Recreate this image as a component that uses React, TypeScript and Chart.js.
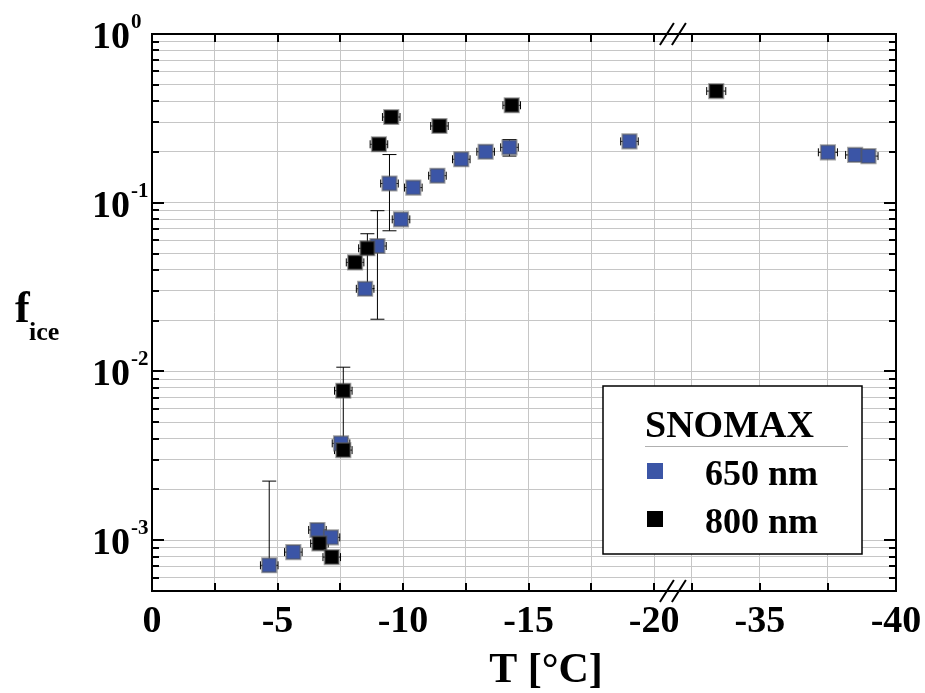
import React, { useEffect, useRef } from 'react';
import { Chart, registerables } from 'chart.js';

Chart.register(...registerables);

// ---- data (temperature in °C, frozen fraction f_ice) ----
const T650 = [-4.67, -5.63, -6.59, -7.13, -7.53, -8.49, -8.98, -9.46, -9.92, -10.41, -11.37, -12.32, -13.29, -14.24, -19.02, -37.5, -38.5, -38.99];
const F650 = [7.1e-4, 8.5e-4, 1.15e-3, 1.04e-3, 3.75e-3, 0.0309, 0.0554, 0.13, 0.0797, 0.123, 0.1446, 0.181, 0.2006, 0.213, 0.231, 0.199, 0.192, 0.189];
const ERR650: ([number, number] | null)[] = [
  [7.1e-4, 2.24e-3], null, null, null, null, null, [0.0204, 0.0897], [0.0682, 0.193], null, null,
  [0.135, 0.155], null, null, [0.189, 0.237], null, null, null, null,
];

const T800 = [-6.67, -7.16, -7.62, -7.62, -8.09, -8.58, -9.04, -9.53, -11.45, -14.33, -33.4];
const F800 = [9.57e-4, 7.94e-4, 3.42e-3, 7.69e-3, 0.0443, 0.0537, 0.222, 0.322, 0.285, 0.378, 0.459];
const ERR800: ([number, number] | null)[] = [
  null, null, null, [3.6e-3, 0.0106], null, [0.031, 0.0655], null, null, null, null, null,
];

const X_ERR = 0.35;

const X_TICKS = [0, -2.5, -5, -7.5, -10, -12.5, -15, -17.5, -20, -32.5, -35, -37.5, -40];
const X_LABELED = [0, -5, -10, -15, -20, -35, -40];
const Y_MIN = 5e-4;
const Y_MAX = 1;
const Y_DECADES = [-3, -2, -1, 0];

const SERIES_NAMES = ['650 nm', '800 nm'];
const LEGEND_TITLE = 'SNOMAX';
const BLUE = '#3b55a6';
const BLACK = '#000000';

// axis break: 0..-20 then -32.5..-40
const BREAK_START = 20;
const BREAK_END = 32.5;
const BREAK_GAP = 1.5;
const SEG2_SCALE = 1.085;
function toAxis(t: number): number {
  const a = -t;
  return a <= BREAK_START ? a : BREAK_START + BREAK_GAP + (a - BREAK_END) * SEG2_SCALE;
}

function yTickValues(): number[] {
  const out: number[] = [];
  for (let e = -4; e <= 0; e++) {
    for (let k = 1; k <= 9; k++) {
      const v = k * Math.pow(10, e);
      if (v >= Y_MIN * 0.999 && v <= Y_MAX * 1.001) out.push(v);
    }
  }
  return out;
}

const FONT = '"Liberation Serif", "Times New Roman", Times, serif';

const errorBarPlugin = {
  id: 'errorBars',
  beforeDatasetsDraw(chart: any) {
    const ctx = chart.ctx;
    const xs = chart.scales.x;
    const ys = chart.scales.y;
    const sets = [
      { t: T650, f: F650, e: ERR650 },
      { t: T800, f: F800, e: ERR800 },
    ];
    ctx.save();
    ctx.strokeStyle = '#000';
    ctx.lineWidth = 1;
    for (const s of sets) {
      s.t.forEach((t, i) => {
        const px = xs.getPixelForValue(toAxis(t));
        const py = ys.getPixelForValue(s.f[i]);
        // horizontal
        const x1 = xs.getPixelForValue(toAxis(t + X_ERR));
        const x2 = xs.getPixelForValue(toAxis(t - X_ERR));
        ctx.beginPath();
        ctx.moveTo(x1, py); ctx.lineTo(x2, py);
        ctx.moveTo(x1, py - 4); ctx.lineTo(x1, py + 4);
        ctx.moveTo(x2, py - 4); ctx.lineTo(x2, py + 4);
        ctx.stroke();
        const e = s.e[i];
        if (e) {
          const ylo = ys.getPixelForValue(e[0]);
          const yhi = ys.getPixelForValue(e[1]);
          ctx.beginPath();
          ctx.moveTo(px, ylo); ctx.lineTo(px, yhi);
          ctx.moveTo(px - 7, yhi); ctx.lineTo(px + 7, yhi);
          ctx.moveTo(px - 7, ylo); ctx.lineTo(px + 7, ylo);
          ctx.stroke();
        }
      });
    }
    ctx.restore();
  },
};

const decorPlugin = {
  id: 'decor',
  afterDraw(chart: any) {
    const ctx = chart.ctx;
    const { left, right, top, bottom } = chart.chartArea;
    const xs = chart.scales.x;
    const ys = chart.scales.y;
    ctx.save();

    // frame
    ctx.strokeStyle = '#000';
    ctx.lineWidth = 2;
    ctx.strokeRect(left, top, right - left, bottom - top);

    // x ticks (inward)
    ctx.lineWidth = 2;
    ctx.beginPath();
    for (const t of X_TICKS) {
      const px = Math.round(xs.getPixelForValue(toAxis(t)));
      ctx.moveTo(px, bottom); ctx.lineTo(px, bottom - 8);
      ctx.moveTo(px, top); ctx.lineTo(px, top + 8);
    }
    ctx.stroke();

    // y ticks (inward)
    ctx.beginPath();
    for (const v of yTickValues()) {
      const py = Math.round(ys.getPixelForValue(v));
      const major = Math.abs(Math.log10(v) - Math.round(Math.log10(v))) < 1e-6;
      const len = major ? 12 : 7;
      ctx.moveTo(left, py); ctx.lineTo(left + len, py);
      ctx.moveTo(right, py); ctx.lineTo(right - len, py);
    }
    ctx.stroke();

    // x labels
    ctx.fillStyle = '#000';
    ctx.font = `bold 38px ${FONT}`;
    ctx.textAlign = 'center';
    ctx.textBaseline = 'alphabetic';
    for (const t of X_LABELED) {
      const px = xs.getPixelForValue(toAxis(t));
      ctx.fillText(String(t), px, bottom + 41);
    }

    // y labels 10^n
    for (const e of Y_DECADES) {
      const py = ys.getPixelForValue(Math.pow(10, e));
      ctx.font = `bold 38px ${FONT}`;
      ctx.textAlign = 'right';
      ctx.fillText('10', left - 22, py + 14);
      ctx.font = `bold 21px ${FONT}`;
      ctx.textAlign = 'left';
      ctx.fillText(String(e), left - 21, py - 6);
    }

    // axis break marks
    const bx = xs.getPixelForValue((BREAK_START + BREAK_START + BREAK_GAP) / 2);
    ctx.lineWidth = 2;
    ctx.beginPath();
    for (const yAx of [top, bottom]) {
      for (const dx of [-6, 6]) {
        ctx.moveTo(bx + dx - 7, yAx + 11);
        ctx.lineTo(bx + dx + 7, yAx - 11);
      }
    }
    ctx.stroke();

    // axis titles
    ctx.font = `bold 42px ${FONT}`;
    ctx.textAlign = 'center';
    ctx.fillText('T [°C]', 546, 682);

    ctx.textAlign = 'left';
    ctx.font = `bold 44px ${FONT}`;
    ctx.fillText('f', 15, 322);
    ctx.font = `bold 26px ${FONT}`;
    ctx.fillText('ice', 29, 340);

    // legend
    ctx.fillStyle = '#fff';
    ctx.fillRect(603, 386, 259, 168);
    ctx.strokeStyle = '#000';
    ctx.lineWidth = 1.5;
    ctx.strokeRect(603, 386, 259, 168);
    ctx.fillStyle = '#000';
    ctx.font = `bold 38px ${FONT}`;
    ctx.textAlign = 'left';
    ctx.fillText(LEGEND_TITLE, 645, 437);
    ctx.strokeStyle = '#b0b0b0';
    ctx.lineWidth = 1;
    ctx.beginPath();
    ctx.moveTo(645, 446.5); ctx.lineTo(848, 446.5);
    ctx.stroke();
    const colors = [BLUE, BLACK];
    const rowsY = [471, 519];
    ctx.font = `bold 36px ${FONT}`;
    SERIES_NAMES.forEach((name, i) => {
      ctx.fillStyle = colors[i];
      ctx.fillRect(647, rowsY[i] - 8, 16, 16);
      ctx.fillStyle = '#000';
      ctx.fillText(name, 705, rowsY[i] + 14);
    });

    ctx.restore();
  },
};

export default function App() {
  const ref = useRef<HTMLCanvasElement | null>(null);

  useEffect(() => {
    if (!ref.current) return;
    const yTicks = yTickValues();
    const chart = new Chart(ref.current, {
      type: 'scatter',
      data: {
        datasets: [
          {
            label: SERIES_NAMES[1],
            data: T800.map((t, i) => ({ x: toAxis(t), y: F800[i] })),
            backgroundColor: BLACK,
            borderColor: 'rgba(90,90,90,0.55)',
            borderWidth: 2,
            pointStyle: 'rect',
            pointRadius: 10,
            order: 0,
          },
          {
            label: SERIES_NAMES[0],
            data: T650.map((t, i) => ({ x: toAxis(t), y: F650[i] })),
            backgroundColor: BLUE,
            borderColor: 'rgba(90,90,90,0.55)',
            borderWidth: 2,
            pointStyle: 'rect',
            pointRadius: 10,
            order: 1,
          },
        ],
      },
      options: {
        animation: false,
        responsive: false,
        devicePixelRatio: 1,
        layout: { padding: { top: 34, right: 29, left: 0, bottom: 0 } },
        plugins: { legend: { display: false }, tooltip: { enabled: false } },
        scales: {
          x: {
            type: 'linear',
            min: 0,
            max: toAxis(-40),
            afterBuildTicks: (scale: any) => {
              scale.ticks = X_TICKS.map((t) => ({ value: toAxis(t) }));
            },
            afterFit: (scale: any) => {
              scale.height = 102;
            },
            ticks: { display: false },
            grid: { color: '#c6c6c6', lineWidth: 1, drawTicks: false },
            border: { display: false },
          },
          y: {
            type: 'logarithmic',
            min: Y_MIN,
            max: Y_MAX,
            afterBuildTicks: (scale: any) => {
              scale.ticks = yTicks.map((v) => ({ value: v }));
            },
            afterFit: (scale: any) => {
              scale.width = 152;
            },
            ticks: { display: false },
            grid: { color: '#c6c6c6', lineWidth: 1, drawTicks: false },
            border: { display: false },
          },
        },
      },
      plugins: [errorBarPlugin, decorPlugin],
    } as any);
    return () => chart.destroy();
  }, []);

  return (
    <div style={{ position: 'fixed', left: 0, top: 0, width: 925, height: 693, background: '#fff' }}>
      <canvas ref={ref} width={925} height={693} style={{ width: 925, height: 693, display: 'block' }} />
    </div>
  );
}
